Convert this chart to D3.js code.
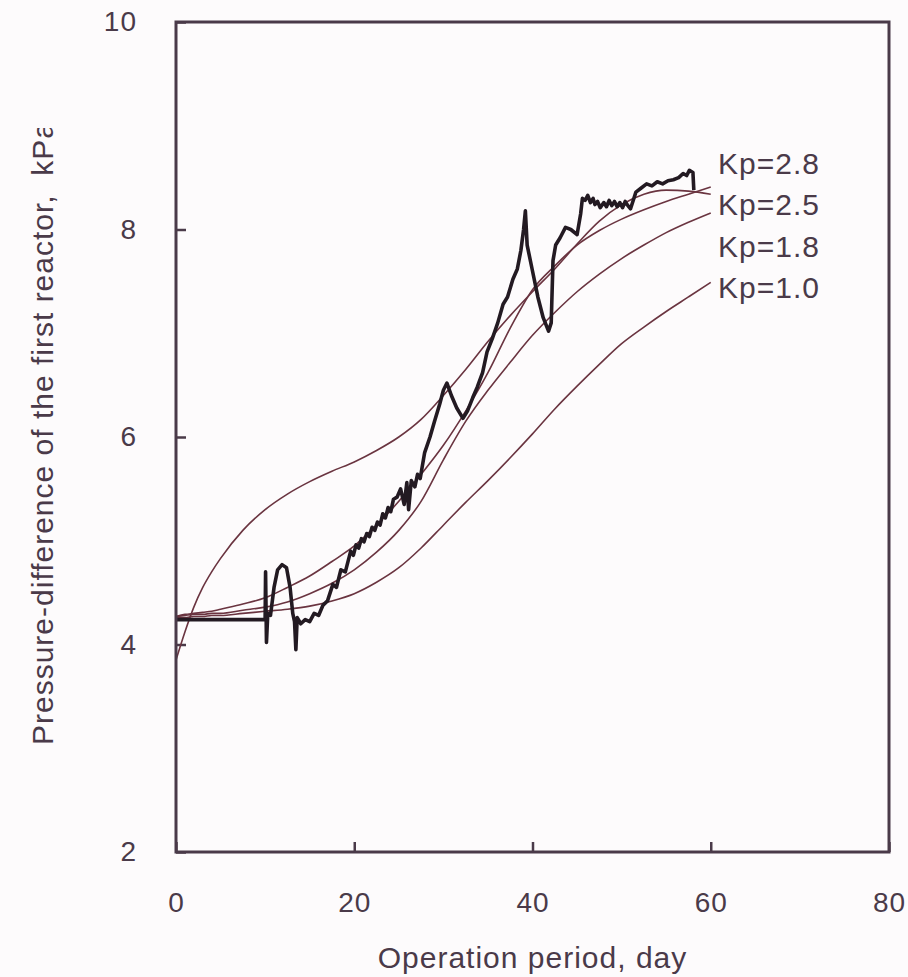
<!DOCTYPE html>
<html>
<head>
<meta charset="utf-8">
<script src="https://cdn.jsdelivr.net/npm/d3@7"></script>
<style>
  body { margin: 0; background: #fdfbfc; }
  svg { display: block; }
</style>
</head>
<body>
<script>
// Pressure difference vs operation period

var w = 908;
var h = 977;

// tick labels
var xTicks = [0, 20, 40, 60, 80];
var yTicks = [2, 4, 6, 8, 10];

// model curves, one per Kp
var kpLabels = ["Kp=2.8", "Kp=2.5", "Kp=1.8", "Kp=1.0"];
var modelDays = [0, 1, 2, 3, 4, 5, 7.5, 10, 12.5, 15, 17.5, 20, 22.5, 25, 27.5, 30, 32.5, 35, 37.5, 40, 42.5, 45, 47.5, 50, 52.5, 55, 57.5, 60];
var kp28 = [3.85, 4.12, 4.36, 4.55, 4.70, 4.83, 5.10, 5.30, 5.45, 5.57, 5.67, 5.76, 5.87, 6.00, 6.17, 6.40, 6.65, 6.92, 7.17, 7.40, 7.62, 7.86, 8.08, 8.24, 8.34, 8.38, 8.37, 8.34];
var kp25 = [4.27, 4.29, 4.30, 4.31, 4.32, 4.34, 4.39, 4.45, 4.55, 4.66, 4.80, 4.95, 5.15, 5.38, 5.64, 5.92, 6.25, 6.62, 7.05, 7.42, 7.65, 7.85, 7.99, 8.10, 8.19, 8.27, 8.34, 8.41];
var kp18 = [4.27, 4.28, 4.29, 4.29, 4.30, 4.30, 4.33, 4.36, 4.41, 4.49, 4.59, 4.72, 4.89, 5.10, 5.38, 5.78, 6.15, 6.45, 6.72, 6.98, 7.20, 7.40, 7.57, 7.72, 7.85, 7.97, 8.07, 8.16];
var kp10 = [4.26, 4.26, 4.27, 4.27, 4.28, 4.28, 4.30, 4.32, 4.34, 4.37, 4.42, 4.49, 4.60, 4.74, 4.93, 5.15, 5.37, 5.58, 5.80, 6.03, 6.27, 6.49, 6.70, 6.90, 7.06, 7.21, 7.35, 7.49];

// measured pressure difference
var obsDays = [0, 10.0, 10.05, 10.15, 10.3, 10.6, 11.0, 11.4, 11.9, 12.4, 12.8, 13.1, 13.3, 13.45, 13.6, 14.0, 14.5, 15.0, 15.5, 16.0, 16.5, 17.0, 17.6, 18.0, 18.5, 19.0,
  19.6, 19.9, 20.2, 20.5, 20.8, 21.1, 21.4, 21.7, 22.0, 22.3, 22.6, 22.9, 23.2, 23.5, 23.8, 24.1, 24.4, 24.8, 25.2, 25.6, 25.9, 26.1, 26.4, 26.8, 27.1, 27.4,
  27.9, 28.5, 29.0, 29.6, 30.0, 30.4, 30.9, 31.5, 32.2, 32.7, 33.3, 33.8, 34.4, 34.9, 35.5, 36.1, 36.7, 37.2, 37.8, 38.3, 38.7, 39.0, 39.2, 39.4, 40.0, 40.6, 41.2, 41.8,
  42.1, 42.3, 42.6, 43.1, 43.7, 44.3, 45.0, 45.4, 45.6, 45.9, 46.2, 46.5, 46.8, 47.0, 47.3, 47.6, 48.0, 48.3, 48.6, 48.9, 49.2, 49.5, 49.8, 50.1, 50.4, 50.7, 51.0, 51.3,
  51.6, 52.2, 52.8, 53.4, 54.0, 54.6, 55.2, 55.8, 56.4, 56.9, 57.3, 57.6, 58.0, 58.1];
var obsValues = [4.24, 4.24, 4.70, 4.02, 4.30, 4.28, 4.55, 4.72, 4.77, 4.74, 4.55, 4.30, 4.22, 3.95, 4.26, 4.20, 4.24, 4.22, 4.30, 4.28, 4.38, 4.42, 4.58, 4.55, 4.72, 4.70,
  4.90, 4.86, 4.96, 4.93, 5.02, 4.99, 5.07, 5.04, 5.13, 5.10, 5.18, 5.15, 5.26, 5.22, 5.32, 5.28, 5.40, 5.42, 5.50, 5.35, 5.56, 5.30, 5.58, 5.52, 5.64, 5.60,
  5.85, 6.00, 6.15, 6.32, 6.45, 6.52, 6.40, 6.28, 6.18, 6.25, 6.38, 6.48, 6.62, 6.82, 6.95, 7.10, 7.28, 7.35, 7.52, 7.62, 7.80, 8.00, 8.18, 7.85, 7.60, 7.35, 7.15, 7.02,
  7.10, 7.70, 7.85, 7.92, 8.02, 8.00, 7.95, 8.15, 8.30, 8.28, 8.33, 8.26, 8.30, 8.24, 8.27, 8.21, 8.26, 8.22, 8.28, 8.23, 8.27, 8.22, 8.26, 8.21, 8.27, 8.23, 8.20, 8.28,
  8.36, 8.40, 8.44, 8.42, 8.46, 8.44, 8.47, 8.48, 8.50, 8.54, 8.52, 8.57, 8.55, 8.38];

var models = [kp28, kp25, kp18, kp10];

var ink = "#4a3a49";
var curveColor = "#6a3440";
var dataColor = "#231a22";
var font = "'Liberation Sans', Arial, sans-serif";

var x = d3.scaleLinear().domain([0, 80]).range([176, 889]);
var y = d3.scaleLinear().domain([2, 10]).range([852, 22]);

var svg = d3.select("body")
  .append("svg")
  .attr("width", w)
  .attr("height", h);

// axes, ticks point inward
var xAxis = svg.append("g")
  .attr("transform", "translate(0," + y(2) + ")")
  .call(d3.axisBottom(x).tickValues(xTicks).tickSize(-10).tickPadding(40).tickFormat(d3.format("d")));

var yAxis = svg.append("g")
  .attr("transform", "translate(" + x(0) + ",0)")
  .call(d3.axisLeft(y).tickValues(yTicks).tickSize(-10).tickPadding(39).tickFormat(d3.format("d")));

[xAxis, yAxis].forEach(function(g) {
  g.select(".domain").remove();
  g.selectAll(".tick line").attr("stroke", ink).attr("stroke-width", 2.5);
  g.selectAll(".tick text")
    .attr("fill", ink)
    .attr("font-family", font)
    .attr("font-size", "28px")
    .attr("letter-spacing", "1px");
});

// model curves
var modelLine = d3.line()
  .x(function(d) { return x(d[0]); })
  .y(function(d) { return y(d[1]); })
  .curve(d3.curveMonotoneX);

svg.selectAll("path.model")
  .data(models)
  .enter()
  .append("path")
  .attr("class", "model")
  .attr("d", function(vals) {
    return modelLine(modelDays.map(function(dd, i) { return [dd, vals[i]]; }));
  })
  .attr("fill", "none")
  .attr("stroke", curveColor)
  .attr("stroke-width", 1.6);

// measured line
var obsLine = d3.line()
  .x(function(d) { return x(d[0]); })
  .y(function(d) { return y(d[1]); });

svg.append("path")
  .attr("d", obsLine(obsDays.map(function(dd, i) { return [dd, obsValues[i]]; })))
  .attr("fill", "none")
  .attr("stroke", dataColor)
  .attr("stroke-width", 3.6)
  .attr("stroke-linejoin", "round");

// frame
svg.append("rect")
  .attr("x", x(0))
  .attr("y", y(10))
  .attr("width", x(80) - x(0))
  .attr("height", y(2) - y(10))
  .attr("fill", "none")
  .attr("stroke", ink)
  .attr("stroke-width", 3);

// Kp labels
svg.selectAll("text.kp")
  .data(kpLabels)
  .enter()
  .append("text")
  .attr("class", "kp")
  .text(function(d) { return d; })
  .attr("x", 718)
  .attr("y", function(d, i) { return 174 + i * 41.3; })
  .attr("fill", ink)
  .attr("font-family", font)
  .attr("font-size", "30px")
  .attr("letter-spacing", "1px");

// axis titles
svg.append("text")
  .text("Operation period, day")
  .attr("x", x(40))
  .attr("y", 968)
  .attr("text-anchor", "middle")
  .attr("fill", ink)
  .attr("font-family", font)
  .attr("font-size", "30px")
  .attr("letter-spacing", "1px");

svg.append("clipPath")
  .attr("id", "titleclip")
  .append("rect")
  .attr("x", 0)
  .attr("y", 128)
  .attr("width", 100)
  .attr("height", 700);

svg.append("g")
  .attr("clip-path", "url(#titleclip)")
  .append("text")
  .attr("transform", "translate(53,745) rotate(-90)")
  .attr("xml:space", "preserve")
  .text("Pressure-difference of the first reactor,  kPa")
  .attr("fill", ink)
  .attr("font-family", font)
  .attr("font-size", "30px")
  .attr("letter-spacing", "1px");
</script>
</body>
</html>
